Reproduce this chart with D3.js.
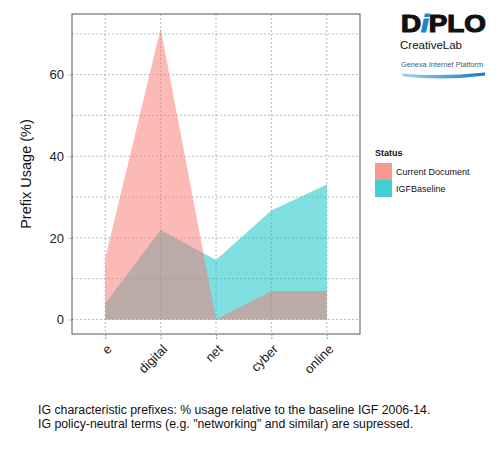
<!DOCTYPE html>
<html>
<head>
<meta charset="utf-8">
<script src="https://cdn.jsdelivr.net/npm/d3@7"></script>
<style>
  body { margin: 0; background: #fff; }
  text { font-family: "Liberation Sans", Arial, sans-serif; }
</style>
</head>
<body>
<script>
// data
var prefixes = ["e", "digital", "net", "cyber", "online"];
var currentDoc = [15, 71.3, 0, 7, 7];
var igfBaseline = [4, 21.9, 14.6, 26.7, 33.1];
var yTicks = [0, 20, 40, 60];
var yMinor = [10, 30, 50, 70];
var seriesNames = ["Current Document", "IGFBaseline"];
var seriesColors = ["#F8766D", "#00BFC4"];

var width = 500, height = 450;
var pLeft = 72, pRight = 360, pTop = 14, pBottom = 334;

var svg = d3.select("body").append("svg").attr("width", width).attr("height", height);

// skalor (ggplot-lik expansion)
var yMax = d3.max(currentDoc.concat(igfBaseline));
var pad = yMax * 0.05;
var x = d3.scalePoint().domain(prefixes).range([pLeft, pRight]).padding(0.6);
var y = d3.scaleLinear().domain([-pad, yMax + pad]).range([pBottom, pTop]);

// gridlinjer
var grid = svg.append("g").attr("stroke", "#aaa").attr("stroke-dasharray", "2,2").attr("stroke-width", 0.8);
grid.selectAll(".gy").data(yTicks.concat(yMinor)).enter().append("line")
    .attr("x1", pLeft).attr("x2", pRight)
    .attr("y1", function(d) { return y(d); }).attr("y2", function(d) { return y(d); });
grid.selectAll(".gx").data(prefixes).enter().append("line")
    .attr("y1", pTop).attr("y2", pBottom)
    .attr("x1", function(d) { return x(d); }).attr("x2", function(d) { return x(d); });

// ytor
var area = d3.area()
    .x(function(d, i) { return x(prefixes[i]); })
    .y0(y(0))
    .y1(function(d) { return y(d); });

svg.append("path").datum(igfBaseline).attr("d", area)
    .attr("fill", seriesColors[1]).attr("fill-opacity", 0.5);
svg.append("path").datum(currentDoc).attr("d", area)
    .attr("fill", seriesColors[0]).attr("fill-opacity", 0.5);

// ram
svg.append("rect").attr("x", pLeft).attr("y", pTop)
    .attr("width", pRight - pLeft).attr("height", pBottom - pTop)
    .attr("fill", "none").attr("stroke", "#555").attr("stroke-width", 1);

// axlar
var yAxis = d3.axisLeft(y).tickValues(yTicks).tickSize(4).tickPadding(4);
var yG = svg.append("g").attr("transform", "translate(" + pLeft + ",0)").call(yAxis);
yG.select(".domain").remove();
yG.selectAll(".tick line").attr("stroke", "#999").attr("stroke-dasharray", "2,1");
yG.selectAll(".tick text").attr("font-size", 13).attr("fill", "#222")
    .attr("font-family", "Liberation Sans, Arial, sans-serif");

var xAxis = d3.axisBottom(x).tickSize(6).tickPadding(4);
var xG = svg.append("g").attr("transform", "translate(0," + pBottom + ")").call(xAxis);
xG.select(".domain").remove();
xG.selectAll(".tick line").attr("stroke", "#999").attr("stroke-dasharray", "2,1");
xG.selectAll(".tick text")
    .attr("font-size", 13).attr("fill", "#222")
    .attr("font-family", "Liberation Sans, Arial, sans-serif")
    .attr("text-anchor", "end")
    .attr("dy", null)
    .attr("y", 0)
    .attr("transform", "translate(7,16) rotate(-45)");

// y-titel
svg.append("text")
    .attr("transform", "translate(31," + ((pTop + pBottom) / 2) + ") rotate(-90)")
    .attr("text-anchor", "middle").attr("font-size", 14.5).attr("fill", "#111")
    .text("Prefix Usage (%)");

// legend
var lg = svg.append("g").attr("transform", "translate(375,146)");
lg.append("text").attr("x", 0).attr("y", 10).attr("font-size", 9).attr("font-weight", "bold")
    .attr("fill", "#111").text("Status");
lg.selectAll(".key").data(seriesNames).enter().append("rect")
    .attr("x", 0).attr("y", function(d, i) { return 17 + i * 17; })
    .attr("width", 17).attr("height", 17)
    .attr("fill", function(d, i) { return seriesColors[i]; }).attr("fill-opacity", 0.75);
lg.selectAll(".lab").data(seriesNames).enter().append("text")
    .attr("x", 21).attr("y", function(d, i) { return 29 + i * 17; })
    .attr("font-size", 9).attr("fill", "#111")
    .text(function(d) { return d; });

// logga
var logo = svg.append("g");
var dip = logo.append("text").attr("x", 401).attr("y", 32)
    .attr("font-family", "DejaVu Sans, sans-serif").attr("font-weight", "bold")
    .attr("font-size", 24).attr("fill", "#111").attr("stroke", "#111").attr("stroke-width", 1.2)
    .attr("textLength", 85).attr("lengthAdjust", "spacingAndGlyphs");
dip.append("tspan").text("D");
dip.append("tspan").attr("fill", "#1a86c8").attr("stroke", "#1a86c8").attr("font-style", "italic").text("i");
dip.append("tspan").text("PLO");
logo.append("text").attr("x", 400).attr("y", 49).attr("font-size", 11.5).attr("fill", "#111")
    .text("CreativeLab");
logo.append("text").attr("x", 401).attr("y", 67).attr("font-size", 8).attr("fill", "#3d5a78")
    .attr("textLength", 82).attr("lengthAdjust", "spacingAndGlyphs")
    .text("Geneva Internet Platform");
var grad = svg.append("defs").append("linearGradient").attr("id", "sw");
grad.append("stop").attr("offset", "0%").attr("stop-color", "#9fd3f2");
grad.append("stop").attr("offset", "100%").attr("stop-color", "#1677c9");
logo.append("path")
    .attr("d", "M401,73.5 Q440,77 485,72.5 L485,75.5 Q445,81 404,76.5 Z")
    .attr("fill", "url(#sw)");

// bildtext
var cap = svg.append("text").attr("x", 38).attr("font-size", 12.3).attr("fill", "#111");
cap.append("tspan").attr("x", 38).attr("y", 414)
    .text("IG characteristic prefixes: % usage relative to the baseline IGF 2006-14.");
cap.append("tspan").attr("x", 38).attr("y", 428)
    .text("IG policy-neutral terms (e.g. \"networking\" and similar) are supressed.");
</script>
</body>
</html>
